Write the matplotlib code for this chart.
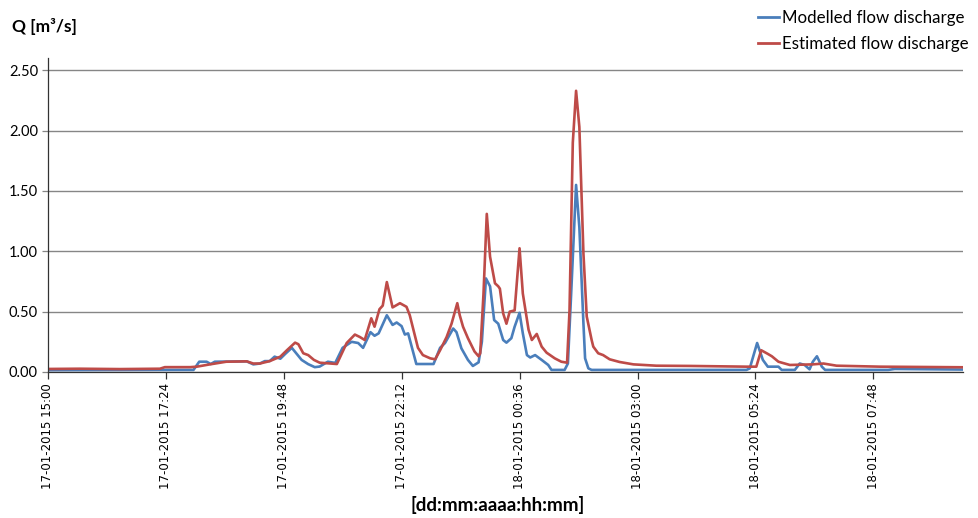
import matplotlib
matplotlib.use("Agg")
import matplotlib.pyplot as plt
from matplotlib.lines import Line2D

# ---- data (time in minutes after 17-01-2015 15:00, discharge in m3/s) ----
t_model = [0, 64, 137, 178, 185, 194, 199, 204, 243, 251, 259, 265, 271, 277, 284, 290,
           298, 310, 318, 326, 332, 342, 351, 360, 371, 379, 385, 394, 399, 404, 414,
           421, 426, 432, 436, 440, 450, 471, 479, 485, 495, 499, 505, 513, 519, 526,
           530, 535, 540, 545, 550, 556, 560, 566, 570, 576, 580, 585, 589, 595, 603,
           611, 615, 631, 635, 639, 645, 649, 654, 656, 660, 664, 735, 853, 857, 866,
           873, 879, 892, 896, 912, 918, 924, 930, 934, 939, 945, 949, 1026, 1034, 1117]
q_model = [0.015, 0.016, 0.017, 0.017, 0.085, 0.085, 0.066, 0.085, 0.088, 0.063, 0.07,
           0.09, 0.09, 0.127, 0.11, 0.15, 0.2, 0.1, 0.065, 0.04, 0.045, 0.085, 0.075,
           0.2, 0.25, 0.24, 0.2, 0.33, 0.3, 0.32, 0.47, 0.39, 0.41, 0.38, 0.31, 0.32,
           0.066, 0.066, 0.2, 0.24, 0.36, 0.33, 0.196, 0.1, 0.05, 0.08, 0.25, 0.775,
           0.71, 0.43, 0.40, 0.265, 0.243, 0.28, 0.375, 0.49, 0.32, 0.14, 0.12, 0.14,
           0.1, 0.058, 0.017, 0.017, 0.07, 0.65, 1.55, 1.2, 0.40, 0.113, 0.03, 0.017,
           0.017, 0.017, 0.03, 0.24, 0.1, 0.044, 0.044, 0.017, 0.017, 0.07, 0.058,
           0.022, 0.085, 0.13, 0.044, 0.017, 0.017, 0.025, 0.02]

t_est = [0, 39, 88, 137, 143, 174, 182, 198, 218, 243, 251, 259, 271, 284, 292, 302,
         306, 312, 318, 325, 332, 353, 365, 375, 381, 387, 395, 399, 405, 409, 414,
         421, 430, 438, 442, 452, 458, 467, 473, 479, 487, 493, 500, 503, 507, 513,
         521, 526, 528, 532, 536, 540, 546, 550, 552, 556, 560, 564, 570, 576, 580,
         587, 591, 597, 603, 609, 619, 627, 634, 637, 641, 645, 649, 654, 658, 664,
         666, 672, 678, 686, 698, 715, 743, 784, 853, 865, 871, 879, 884, 892, 906,
         934, 947, 963, 1016, 1117]
q_est = [0.025, 0.027, 0.024, 0.027, 0.04, 0.04, 0.044, 0.063, 0.085, 0.088, 0.07, 0.07,
         0.09, 0.127, 0.18, 0.243, 0.23, 0.155, 0.14, 0.1, 0.077, 0.066, 0.24, 0.31,
         0.29, 0.265, 0.445, 0.375, 0.52, 0.55, 0.745, 0.535, 0.57, 0.54, 0.47, 0.2,
         0.14, 0.113, 0.105, 0.18, 0.29, 0.4, 0.57, 0.47, 0.375, 0.28, 0.17, 0.13,
         0.155, 0.65, 1.31, 0.955, 0.735, 0.71, 0.69, 0.486, 0.40, 0.5, 0.51, 1.025,
         0.65, 0.35, 0.265, 0.315, 0.21, 0.16, 0.113, 0.085, 0.077, 0.51, 1.9, 2.33,
         2.03, 0.98, 0.46, 0.265, 0.21, 0.155, 0.14, 0.105, 0.083, 0.063, 0.052, 0.05,
         0.044, 0.044, 0.18, 0.15, 0.13, 0.085, 0.058, 0.063, 0.07, 0.052, 0.044, 0.039]

tick_minutes = [0, 144, 288, 432, 576, 720, 864, 1008]
tick_labels = ["17-01-2015 15:00", "17-01-2015 17:24", "17-01-2015 19:48",
               "17-01-2015 22:12", "18-01-2015 00:36", "18-01-2015 03:00",
               "18-01-2015 05:24", "18-01-2015 07:48"]
y_ticks = [0.0, 0.5, 1.0, 1.5, 2.0, 2.5]

series_names = ["Modelled flow discharge", "Estimated flow discharge"]
blue = "#4a7ebb"
red = "#be4b48"

fig = plt.figure(figsize=(9.79, 5.18), dpi=100)
ax = fig.add_axes([0.0487, 0.2819, 0.9347, 0.6057])

ax.plot(t_model, q_model, color=blue, lw=1.9, solid_joinstyle="round")
ax.plot(t_est, q_est, color=red, lw=1.9, solid_joinstyle="round")

ax.set_xlim(0, 1117)
ax.set_ylim(0, 2.6)
ax.set_yticks(y_ticks)
ax.set_yticklabels([f"{v:.2f}" for v in y_ticks], family="Lato", fontsize=10.5)
ax.set_xticks(tick_minutes)
ax.set_xticklabels(tick_labels, rotation=90, family="DejaVu Sans", fontsize=8.5)
ax.yaxis.grid(True, color="#868686", lw=1.0)
ax.set_axisbelow(True)
for s in ["top", "right"]:
    ax.spines[s].set_visible(False)
for s in ["left", "bottom"]:
    ax.spines[s].set_color("#333333")
    ax.spines[s].set_linewidth(0.9)
ax.tick_params(axis="x", length=5, width=0.9, color="#333333", pad=3)
ax.tick_params(axis="y", length=4, width=0.9, color="#868686", pad=3)

fig.text(0.012, 0.948, "Q [m³/s]", family="Lato", fontweight="bold", fontsize=12.5,
         ha="left", va="center")
fig.text(0.508, 0.025, "[dd:mm:aaaa:hh:mm]", family="Lato", fontweight="bold",
         fontsize=13.5, ha="center", va="center")

handles = [Line2D([], [], color=blue, lw=2), Line2D([], [], color=red, lw=2)]
fig.legend(handles, series_names, loc="upper right", bbox_to_anchor=(1.0, 1.0),
           frameon=False, handlelength=1.2, handletextpad=0.2, labelspacing=0.6,
           prop={"family": "Lato", "size": 12.2}, borderaxespad=0.2)

fig.savefig("out.png", dpi=100)
